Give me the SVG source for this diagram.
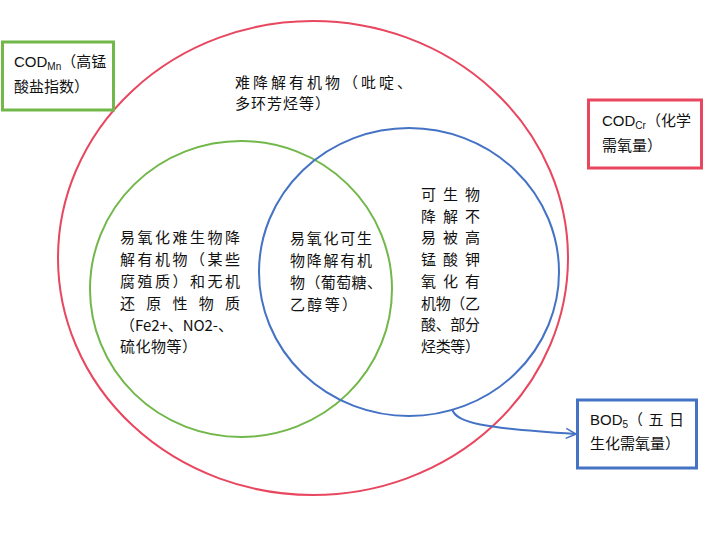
<svg xmlns="http://www.w3.org/2000/svg" width="705" height="554" viewBox="0 0 705 554">
  <defs>
    <style>
      .t { font-family: "Liberation Sans", "Noto Sans CJK SC", sans-serif; font-size: 15px; fill: #111; }
      .c { font-family: "Noto Sans CJK SC", sans-serif; font-size: 15px; fill: #111; }
      .sub { font-size: 10px; }
      .ring { fill: none; stroke-width: 2; }
      .box { fill: #fff; stroke-width: 3; }
    </style>
    <marker id="arr" viewBox="0 0 12 12" refX="11" refY="6" markerWidth="12" markerHeight="12" markerUnits="userSpaceOnUse" orient="auto">
      <path d="M1,1 L11,6 L1,11" fill="none" stroke="#4472C4" stroke-width="1.5"/>
    </marker>
  </defs>
  <rect width="705" height="554" fill="#fff"/>

  <g id="cod-cr-ring">
    <ellipse class="ring" cx="313" cy="258" rx="255" ry="237" stroke="#E8475F"/>
    <text class="c" x="235" y="88" textLength="177">难降解有机物（吡啶、</text>
    <text class="c" x="235" y="109" textLength="95">多环芳烃等）</text>
  </g>

  <g id="cod-mn-ring">
    <ellipse class="ring" cx="241" cy="289" rx="151" ry="148" stroke="#72B74A"/>
    <text class="c" x="120" y="243" textLength="120">易氧化难生物降</text>
    <text class="c" x="120" y="265" textLength="120">解有机物（某些</text>
    <text class="c" x="120" y="287" textLength="120">腐殖质）和无机</text>
    <text class="c" x="120" y="309" textLength="120">还原性物质</text>
    <text class="c" x="120" y="331" textLength="113">（Fe2+、NO2-、</text>
    <text class="c" x="120" y="352" textLength="77">硫化物等）</text>
  </g>

  <g id="bod-ring">
    <ellipse class="ring" cx="409" cy="272" rx="150" ry="144" stroke="#4472C4"/>
    <text class="c" x="290" y="244" textLength="82">易氧化可生</text>
    <text class="c" x="290" y="266" textLength="82">物降解有机</text>
    <text class="c" x="290" y="288" textLength="92">物（葡萄糖、</text>
    <text class="c" x="290" y="310" textLength="67">乙醇等）</text>
    <text class="c" x="421" y="200" textLength="59">可生物</text>
    <text class="c" x="421" y="222" textLength="59">降解不</text>
    <text class="c" x="421" y="243" textLength="59">易被高</text>
    <text class="c" x="421" y="265" textLength="59">锰酸钾</text>
    <text class="c" x="421" y="287" textLength="59">氧化有</text>
    <text class="c" x="421" y="309" textLength="59">机物（乙</text>
    <text class="c" x="421" y="330" textLength="59">酸、部分</text>
    <text class="c" x="421" y="352" textLength="59">烃类等）</text>
  </g>

  <g id="connectors">
    <path d="M452,409 C456,423 482,428 576,434" fill="none" stroke="#4472C4" stroke-width="2" marker-end="url(#arr)"/>
  </g>

  <g id="cod-mn-box">
    <rect class="box" x="2.5" y="42" width="111" height="68" stroke="#72B74A"/>
    <text class="t" x="14" y="67">COD<tspan class="sub" dy="3">Mn</tspan><tspan dy="-3">（高锰</tspan></text>
    <text class="t" x="14" y="92">酸盐指数）</text>
  </g>

  <g id="cod-cr-box">
    <rect class="box" x="588.5" y="100" width="113" height="68" stroke="#E8475F"/>
    <text class="t" x="602" y="126">COD<tspan class="sub" dy="3">Cr</tspan><tspan dy="-3">（化学</tspan></text>
    <text class="t" x="602" y="151">需氧量）</text>
  </g>

  <g id="bod-box">
    <rect class="box" x="577.5" y="400" width="119" height="68" stroke="#4472C4"/>
    <text class="t" x="590" y="425">BOD<tspan class="sub" dy="3">5</tspan><tspan dy="-3" textLength="56">（ 五 日</tspan></text>
    <text class="t" x="590" y="449">生化需氧量）</text>
  </g>
</svg>
